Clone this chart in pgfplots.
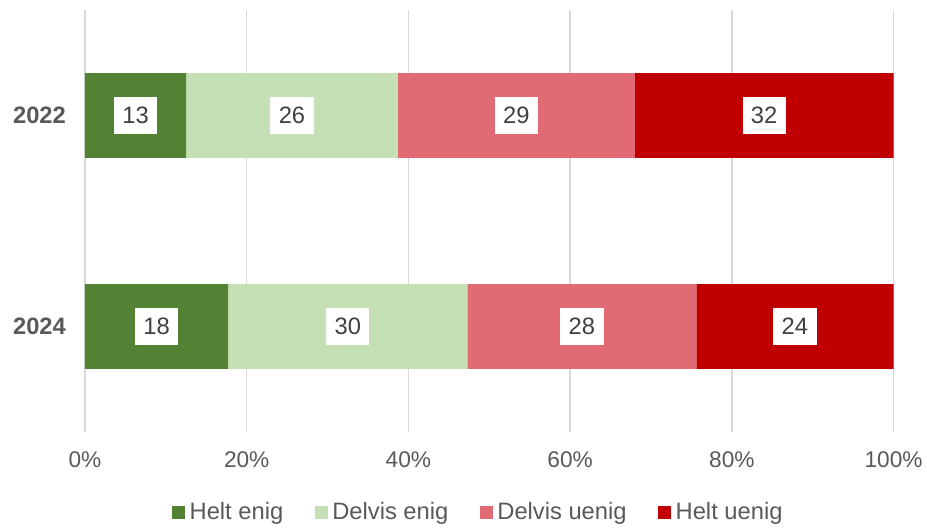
\documentclass[border=0pt]{standalone}
\usepackage{pgfplots}
\pgfplotsset{compat=1.18}
\usepackage{fontspec}
\setmainfont{Liberation Sans}
\definecolor{c1}{HTML}{548235}
\definecolor{c2}{HTML}{C5E0B4}
\definecolor{c3}{HTML}{E06B75}
\definecolor{c4}{HTML}{C00000}
\definecolor{tickc}{HTML}{595959}
\definecolor{labc}{HTML}{404040}
\definecolor{gridc}{HTML}{D9D9D9}
\newcommand{\cf}{\fontsize{17pt}{20pt}\selectfont}
\newcommand{\lf}{\fontsize{17.8pt}{21pt}\selectfont}
\begin{document}
\begin{tikzpicture}
\path[use as bounding box] (-63.75pt,-72.75pt) rectangle (631.5pt,324pt);
\begin{axis}[
  at={(0,0)}, anchor=south west,
  scale only axis,
  width=606.4pt, height=316.5pt,
  xbar stacked,
  bar width=63.4pt,
  xmin=0, xmax=100,
  ymin=-0.5, ymax=1.5,
  xtick={0,20,40,60,80,100},
  xticklabel={\pgfmathprintnumber{\tick}\%},
  ytick={0,1},
  yticklabels={2024,2022},
  xmajorgrids,
  major grid style={gridc, line width=1.1pt},
  axis line style={draw=none},
  tick style={draw=none},
  major tick length=0pt,
  /pgf/number format/assume math mode=true,
  x tick label style={font=\cf, text=tickc, yshift=-11pt},
  y tick label style={font=\lf\bfseries, text=tickc, xshift=-10.8pt},
  nodes near coords,
  nodes near coords align={center},
  point meta=explicit symbolic,
  every node near coord/.append style={anchor=center, fill=white, text=labc, font=\lf,
     minimum width=32.5pt, minimum height=27.5pt, inner sep=0pt},
  legend style={at={(0.488,-0.19)}, anchor=center, draw=none, fill=none,
     legend columns=4, font=\lf, text=tickc,
     /tikz/every even column/.append style={column sep=20pt},
     nodes={inner xsep=3.5pt}},
  legend image code/.code={\fill[#1] (0pt,-4.875pt) rectangle (9.75pt,4.875pt);},
]
\addplot[fill=c1, draw=none] coordinates {(12.5,1) [13] (17.7,0) [18]};
\addplot[fill=c2, draw=none] coordinates {(26.2,1) [26] (29.6,0) [30]};
\addplot[fill=c3, draw=none] coordinates {(29.3,1) [29] (28.3,0) [28]};
\addplot[fill=c4, draw=none] coordinates {(32.0,1) [32] (24.4,0) [24]};
\legend{Helt enig, Delvis enig, Delvis uenig, Helt uenig}
\end{axis}
\end{tikzpicture}
\end{document}
